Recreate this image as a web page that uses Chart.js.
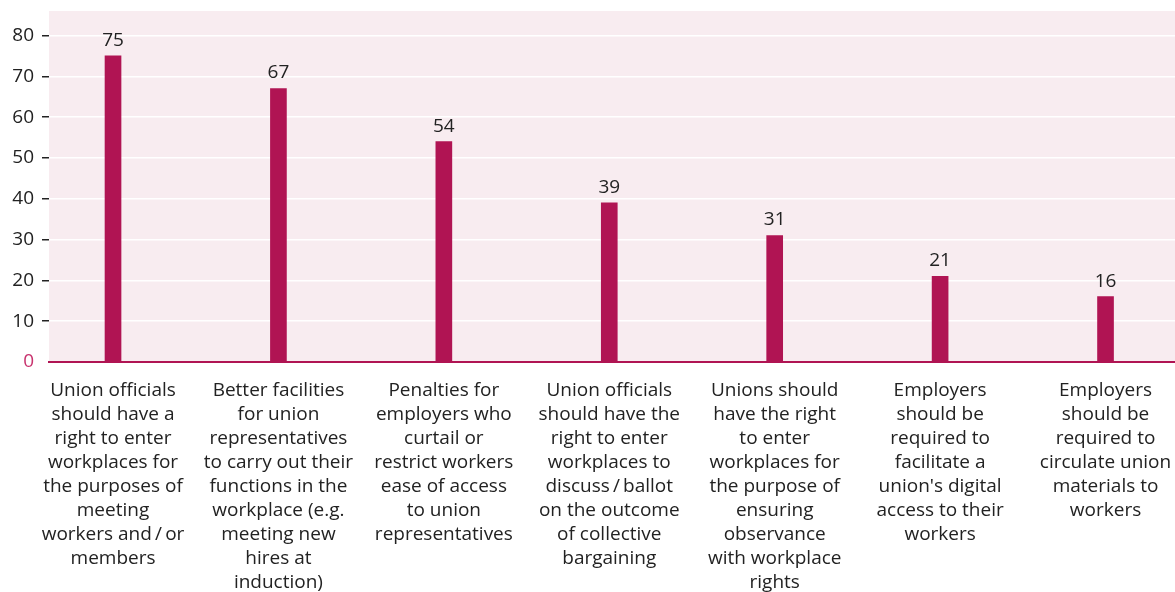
<!DOCTYPE html>
<html>
<head>
<meta charset="utf-8">
<script src="https://cdn.jsdelivr.net/npm/chart.js@4"></script>
<style>
  body { margin: 0; background: #fff; }
</style>
</head>
<body>
<canvas id="chart" width="1175" height="592"></canvas>
<script>
const categories = [
  ['Union officials', 'should have a', 'right to enter', 'workplaces for', 'the purposes of', 'meeting', 'workers and\u2009/\u2009or', 'members'],
  ['Better facilities', 'for union', 'representatives', 'to carry out their', 'functions in the', 'workplace (e.g.', 'meeting new', 'hires at', 'induction)'],
  ['Penalties for', 'employers who', 'curtail or', 'restrict workers', 'ease of access', 'to union', 'representatives'],
  ['Union officials', 'should have the', 'right to enter', 'workplaces to', 'discuss\u2009/\u2009ballot', 'on the outcome', 'of collective', 'bargaining'],
  ['Unions should', 'have the right', 'to enter', 'workplaces for', 'the purpose of', 'ensuring', 'observance', 'with workplace', 'rights'],
  ['Employers', 'should be', 'required to', 'facilitate a', "union's digital", 'access to their', 'workers'],
  ['Employers', 'should be', 'required to', 'circulate union', 'materials to', 'workers'],
];
const values = [75, 67, 54, 39, 31, 21, 16];
const yTicks = [0, 10, 20, 30, 40, 50, 60, 70, 80];

const barColor = '#B01453';
const font = { family: '"Open Sans", sans-serif', size: 19 };

const bgPlugin = {
  id: 'bg',
  beforeDraw: (chart) => {
    const a = chart.chartArea;
    const ctx = chart.ctx;
    ctx.save();
    ctx.fillStyle = '#F8ECF0';
    ctx.fillRect(a.left, a.top, a.right - a.left, a.bottom - a.top);
    ctx.restore();
  },
};

const valuePlugin = {
  id: 'values',
  afterDatasetsDraw: (chart) => {
    const ctx = chart.ctx;
    const meta = chart.getDatasetMeta(0);
    ctx.save();
    ctx.font = '19px "Open Sans", sans-serif';
    ctx.fillStyle = '#222';
    ctx.textAlign = 'center';
    ctx.textBaseline = 'bottom';
    meta.data.forEach((bar, i) => {
      ctx.fillText(values[i], bar.x, bar.y - 6);
    });
    ctx.restore();
  },
};

const canvas = document.getElementById('chart');
const chart = new Chart(canvas, {
  type: 'bar',
  data: {
    datasets: [
      {
        data: values.map((v, i) => ({ x: i, y: v })),
        backgroundColor: barColor,
        barThickness: 16,
      },
    ],
  },
  options: {
    responsive: false,
    animation: false,
    layout: { padding: { top: 11, left: 0, right: 0, bottom: 0 } },
    plugins: {
      legend: { display: false },
      tooltip: { enabled: false },
    },
    scales: {
      x: {
        type: 'linear',
        offset: false,
        min: -0.387,
        max: 6.42,
        afterBuildTicks: (axis) => {
          axis.ticks = categories.map((c, i) => ({ value: i }));
        },
        afterFit: (axis) => {
          axis.height = 230;
          axis.paddingLeft = 0;
          axis.paddingRight = 0;
        },
        grid: { display: false },
        border: { display: true, color: barColor, width: 2 },
        ticks: {
          autoSkip: false,
          maxRotation: 0,
          padding: 9,
          color: '#222',
          font: { ...font, lineHeight: 24 / 19 },
          callback: (v) => categories[v],
        },
      },
      y: {
        min: 0,
        max: 86,
        afterBuildTicks: (axis) => {
          axis.ticks = yTicks.map((v) => ({ value: v }));
        },
        afterFit: (axis) => {
          axis.width = 49;
          axis.paddingTop = 0;
          axis.paddingBottom = 0;
        },
        border: { display: false },
        grid: {
          color: (c) => (c.tick && c.tick.value === 0 ? 'rgba(0,0,0,0)' : '#FFFFFF'),
          lineWidth: 1.5,
          tickLength: 7,
          tickColor: (c) => (c.tick && c.tick.value === 0 ? 'rgba(0,0,0,0)' : '#222'),
        },
        ticks: {
          padding: 8,
          color: (c) => (c.tick && c.tick.value === 0 ? '#C8336E' : '#222'),
          font: font,
        },
      },
    },
  },
  plugins: [bgPlugin, valuePlugin],
});
</script>
</body>
</html>
